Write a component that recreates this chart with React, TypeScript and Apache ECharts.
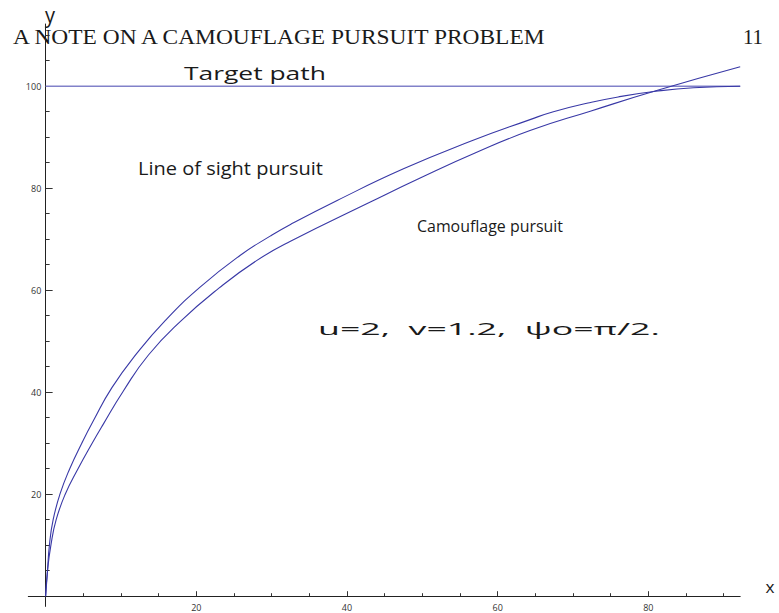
import React, { useEffect, useRef } from "react";
import * as echarts from "echarts";

// ---- data ----
const xMajorTicks = [20, 40, 60, 80];
const xMinorTicks = [5, 10, 15, 25, 30, 35, 45, 50, 55, 65, 70, 75, 85, 90];
const yMajorTicks = [20, 40, 60, 80, 100];
const yMinorTicks = [5, 10, 15, 25, 30, 35, 45, 50, 55, 65, 70, 75, 85, 90, 95, 105, 110];

const targetX = [0, 92.2];
const targetY = [100, 100];

const losX = [0, 0.25, 0.5, 1.0, 1.9, 3.2, 4.8, 6.3, 8.8, 12.1, 15.9, 20.5, 25.8, 29.8, 32.5, 38.7, 47.5, 56.4, 64.4, 67.4, 72, 76, 81, 86, 92.2];
const losY = [0, 5, 10, 15, 20, 25, 30, 34.3, 40.9, 47.6, 54.1, 60.6, 66.8, 70.6, 72.9, 77.6, 83.8, 89.2, 93.5, 95.0, 96.7, 97.9, 99.0, 99.7, 100];

const camX = [0, 0.25, 0.7, 1.4, 2.6, 4.3, 6.1, 7.6, 10.3, 13.65, 17.9, 23.0, 28.0, 32.5, 43.1, 50, 57, 64.3, 72.3, 81, 92.2];
const camY = [0, 5, 10, 15, 20, 25, 29.8, 33.6, 40.2, 47.3, 53.9, 60.4, 65.8, 69.6, 77.3, 82.2, 86.9, 91.3, 95.1, 99.1, 103.8];

const headerText = "A NOTE ON A CAMOUFLAGE PURSUIT PROBLEM";
const pageNumber = "11";
const targetLabel = "Target path";
const losLabel = "Line of sight pursuit";
const camLabel = "Camouflage pursuit";
const paramText = "u=2,  v=1.2,  ψo=π/2.";

const X_MIN = -2.3;
const X_MAX = 92.2;
const Y_MIN = -2;
const Y_MAX = 112.2;

const SANS = '"Open Sans", "Noto Sans", sans-serif';
const SERIF = '"Liberation Serif", "DejaVu Serif", serif';

function measure(text: string, size: number, family: string): number {
  const c = document.createElement("canvas");
  const ctx = c.getContext("2d");
  if (!ctx) return 1;
  ctx.font = `${size}px ${family}`;
  return ctx.measureText(text).width || 1;
}

function zip(xs: number[], ys: number[]) {
  return xs.map((x, i) => [x, ys[i]]);
}

function makeText(
  text: string,
  x: number,
  y: number,
  size: number,
  family: string,
  width: number,
  align: "left" | "right" | "center" = "left",
  fill = "#1a1a1a"
) {
  const sx = width / measure(text, size, family);
  return {
    type: "text",
    x,
    y,
    scaleX: sx,
    scaleY: 1,
    silent: true,
    style: {
      text,
      fontSize: size,
      fontFamily: family,
      fill,
      align,
      verticalAlign: "middle",
      textAlign: align,
      textVerticalAlign: "middle",
    },
  };
}

export default function App() {
  const ref = useRef<HTMLDivElement>(null);

  useEffect(() => {
    if (!ref.current) return;
    const chart = echarts.init(ref.current, null, { renderer: "svg" });

    const gridBox = { left: 28.3, top: 24, width: 711.9, height: 582.4 };
    const axisColor = "#222";
    const tickColor = "#333";

    const option: any = {
      animation: false,
      backgroundColor: "#ffffff",
      grid: [
        { ...gridBox, containLabel: false },
        { ...gridBox, containLabel: false },
      ],
      xAxis: [
        {
          type: "value",
          gridIndex: 0,
          min: X_MIN,
          max: X_MAX,
          axisLine: { show: true, onZero: true, lineStyle: { color: axisColor, width: 1 } },
          axisTick: {
            show: true,
            inside: true,
            length: 5,
            customValues: xMajorTicks,
            lineStyle: { color: tickColor, width: 1 },
          },
          axisLabel: {
            show: true,
            customValues: xMajorTicks,
            fontSize: 9,
            fontFamily: SANS,
            color: "#333",
            margin: -3,
          },
          splitLine: { show: false },
        },
        {
          type: "value",
          gridIndex: 1,
          min: X_MIN,
          max: X_MAX,
          axisLine: { show: true, onZero: true, lineStyle: { color: axisColor, width: 1, opacity: 0 } },
          axisTick: {
            show: true,
            inside: true,
            length: 3,
            customValues: xMinorTicks,
            lineStyle: { color: tickColor, width: 1, opacity: 1 },
          },
          axisLabel: { show: false },
          splitLine: { show: false },
        },
      ],
      yAxis: [
        {
          type: "value",
          gridIndex: 0,
          min: Y_MIN,
          max: Y_MAX,
          axisLine: { show: true, onZero: true, lineStyle: { color: axisColor, width: 1 } },
          axisTick: {
            show: true,
            inside: true,
            length: 7,
            customValues: yMajorTicks,
            lineStyle: { color: tickColor, width: 1 },
          },
          axisLabel: {
            show: true,
            customValues: yMajorTicks,
            fontSize: 9,
            fontFamily: SANS,
            color: "#333",
            margin: -13,
          },
          splitLine: { show: false },
        },
        {
          type: "value",
          gridIndex: 1,
          min: Y_MIN,
          max: Y_MAX,
          axisLine: { show: true, onZero: true, lineStyle: { color: axisColor, width: 1, opacity: 0 } },
          axisTick: {
            show: true,
            inside: true,
            length: 4,
            customValues: yMinorTicks,
            lineStyle: { color: tickColor, width: 1, opacity: 1 },
          },
          axisLabel: { show: false },
          splitLine: { show: false },
        },
      ],
      series: [
        {
          name: targetLabel,
          type: "line",
          xAxisIndex: 0,
          yAxisIndex: 0,
          data: zip(targetX, targetY),
          showSymbol: false,
          symbol: "none",
          lineStyle: { color: "#8181c9", width: 1.4 },
          silent: true,
        },
        {
          name: losLabel,
          type: "line",
          xAxisIndex: 0,
          yAxisIndex: 0,
          data: zip(losX, losY),
          smooth: 0.5,
          showSymbol: false,
          symbol: "none",
          lineStyle: { color: "#3838a6", width: 1.1 },
          silent: true,
        },
        {
          name: camLabel,
          type: "line",
          xAxisIndex: 0,
          yAxisIndex: 0,
          data: zip(camX, camY),
          smooth: 0.5,
          showSymbol: false,
          symbol: "none",
          lineStyle: { color: "#3838a6", width: 1.1 },
          silent: true,
        },
      ],
      graphic: [
        makeText(headerText, 13, 36.5, 21, SERIF, 536, "left", "#1a1a1a"),
        makeText(pageNumber, 763, 36.5, 21, SERIF, 20, "right", "#1a1a1a"),
        makeText("y", 50, 15, 21, SANS, 10, "center", "#1a1a1a"),
        makeText("x", 770, 587, 16, SANS, 9, "center", "#1a1a1a"),
        makeText(targetLabel, 184, 73, 18, SANS, 142),
        makeText(losLabel, 138, 168, 19, SANS, 185),
        makeText(camLabel, 417, 225, 17, SANS, 146),
        makeText(paramText, 318, 328, 17, SANS, 342),
      ],
    };

    chart.setOption(option);
    return () => chart.dispose();
  }, []);

  return (
    <div
      ref={ref}
      style={{ position: "absolute", left: 0, top: 0, width: 779, height: 613 }}
    />
  );
}
